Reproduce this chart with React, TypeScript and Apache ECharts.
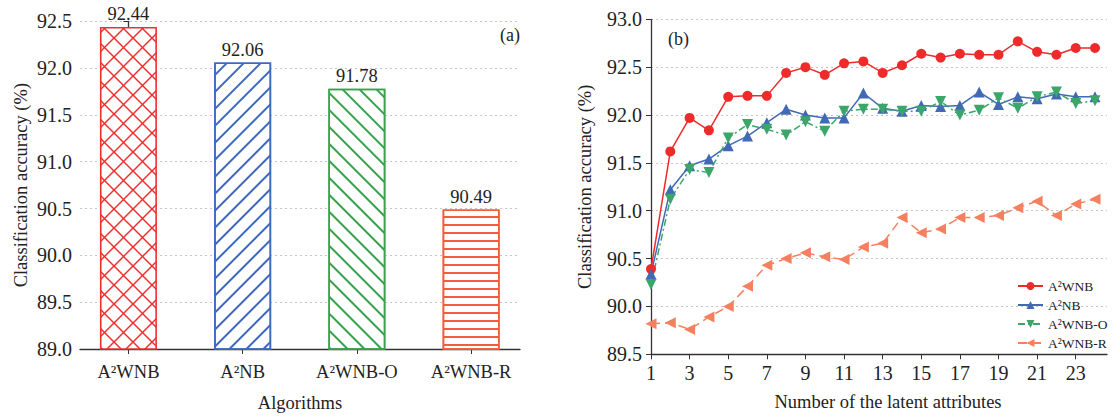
import React, { useEffect, useRef } from "react";
import * as echarts from "echarts";

const categories = ["A²WNB", "A²NB", "A²WNB-O", "A²WNB-R"];
const barValues = [92.44, 92.06, 91.78, 90.49];

const latentAttrs = [1, 2, 3, 4, 5, 6, 7, 8, 9, 10, 11, 12, 13, 14, 15, 16, 17, 18, 19, 20, 21, 22, 23, 24];
const xTickLabels = [1, 3, 5, 7, 9, 11, 13, 15, 17, 19, 21, 23];
const a2wnb = [90.39, 91.62, 91.97, 91.84, 92.19, 92.2, 92.2, 92.44, 92.5, 92.42, 92.54, 92.56, 92.44, 92.52, 92.64, 92.6, 92.64, 92.63, 92.63, 92.77, 92.66, 92.63, 92.7, 92.7];
const a2nb = [90.34, 91.22, 91.47, 91.54, 91.68, 91.78, 91.92, 92.06, 92.0, 91.97, 91.97, 92.23, 92.07, 92.04, 92.1, 92.09, 92.1, 92.24, 92.11, 92.19, 92.17, 92.22, 92.19, 92.19];
const a2wnbO = [90.23, 91.12, 91.43, 91.4, 91.76, 91.9, 91.85, 91.79, 91.93, 91.83, 92.04, 92.06, 92.06, 92.04, 92.04, 92.14, 92.0, 92.05, 92.18, 92.07, 92.19, 92.24, 92.12, 92.15];
const a2wnbR = [89.82, 89.83, 89.76, 89.89, 90.0, 90.21, 90.43, 90.5, 90.56, 90.52, 90.49, 90.62, 90.66, 90.93, 90.77, 90.81, 90.93, 90.93, 90.95, 91.03, 91.1, 90.95, 91.07, 91.12];

const FONT = "Liberation Serif";
const TXT = "#222";
const AXIS = "#333";

const barColors = ["#ee2f2f", "#3f69bd", "#36a24c", "#f25d3d"];
const lineColors = ["#ee2a2a", "#4169b5", "#3aa66a", "#f5805f"];

function hatch(color: string, rotation: number, gap: number, w = 1.4) {
  return {
    symbol: "rect",
    symbolSize: 1,
    dashArrayX: [1, 0],
    dashArrayY: [w, gap],
    rotation,
    color,
  };
}

function crossPattern(color: string, size: number) {
  const c = document.createElement("canvas");
  c.width = size;
  c.height = size;
  const ctx = c.getContext("2d")!;
  ctx.fillStyle = "#fff";
  ctx.fillRect(0, 0, size, size);
  ctx.strokeStyle = color;
  ctx.lineWidth = 1.5;
  for (const off of [-size, 0, size]) {
    ctx.beginPath();
    ctx.moveTo(off, 0);
    ctx.lineTo(off + size, size);
    ctx.stroke();
    ctx.beginPath();
    ctx.moveTo(off + size, 0);
    ctx.lineTo(off, size);
    ctx.stroke();
  }
  return { image: c, repeat: "repeat", imageWidth: size, imageHeight: size };
}

export default function App() {
  const ref = useRef<HTMLDivElement>(null);
  useEffect(() => {
    if (!ref.current) return;
    const chart = echarts.init(ref.current, null, { renderer: "svg" });
    const decals = [
      null,
      hatch(barColors[1], -Math.PI / 4, 9.2),
      hatch(barColors[2], Math.PI / 4, 9.2),
      hatch(barColors[3], 0, 5.6, 1.5),
    ];
    const mainBarData = barValues.map((v, i) => ({
      value: [i, v],
      itemStyle:
        i === 0
          ? { color: crossPattern(barColors[0], 19), borderColor: barColors[0], borderWidth: 1.6 }
          : { color: "#fff", borderColor: barColors[i], borderWidth: 1.6, decal: decals[i] },
    }));
    const lineSeries = [
      { name: "A²WNB", data: a2wnb, color: lineColors[0], symbol: "circle", size: 10, rot: 0, type: "solid" as any },
      { name: "A²NB", data: a2nb, color: lineColors[1], symbol: "triangle", size: 11, rot: 0, type: "solid" as any },
      { name: "A²WNB-O", data: a2wnbO, color: lineColors[2], symbol: "triangle", size: 11, rot: 180, type: [7, 3, 2, 3] as any },
      { name: "A²WNB-R", data: a2wnbR, color: lineColors[3], symbol: "triangle", size: 11, rot: 90, type: [9, 5] as any },
    ].map((s) => ({
      name: s.name,
      type: "line",
      xAxisIndex: 1,
      yAxisIndex: 1,
      data: s.data.map((v, i) => [latentAttrs[i], v]),
      symbol: s.symbol,
      symbolSize: s.size,
      symbolRotate: s.rot,
      showSymbol: true,
      color: s.color,
      itemStyle: { color: s.color, borderWidth: 0 },
      lineStyle: { color: s.color, width: 1.5, type: s.type },
      emphasis: { disabled: true },
    }));

    const axisLabelStyle = { color: TXT, fontFamily: FONT, fontSize: 20 };
    const nameStyle = { color: TXT, fontFamily: FONT, fontSize: 18.5 };
    const splitLine = { show: true, lineStyle: { color: "#c4c4c4", type: [2, 3] as any, width: 1 } };

    chart.setOption({
      animation: false,
      textStyle: { fontFamily: FONT },
      grid: [
        { left: 80, top: 21.3, width: 440, height: 327.7, outerBoundsMode: "none" },
        { left: 651, top: 19.3, width: 456, height: 335, outerBoundsMode: "none" },
      ],
      legend: {
        orient: "vertical",
        left: 1012,
        top: 274,
        itemWidth: 25,
        itemHeight: 10,
        itemGap: 5,
        selectedMode: false,
        textStyle: { color: TXT, fontFamily: FONT, fontSize: 13.5 },
        data: lineSeries.map((s) => s.name),
      },
      xAxis: [
        {
          type: "value",
          gridIndex: 0,
          min: -0.424,
          max: 3.428,
          splitLine: { show: false },
          axisLine: { show: true, lineStyle: { color: AXIS, width: 1.3 } },
          axisTick: { show: true, customValues: [0, 1, 2, 3], length: 5, lineStyle: { color: AXIS } },
          axisLabel: {
            ...axisLabelStyle,
            fontSize: 18.5,
            margin: 13,
            customValues: [0, 1, 2, 3],
            formatter: (v: number) => categories[Math.round(v)] ?? "",
          },
          name: "Algorithms",
          nameLocation: "middle",
          nameGap: 44,
          nameTextStyle: nameStyle,
        },
        {
          type: "value",
          gridIndex: 1,
          min: 1,
          max: 24.62,
          splitLine: { show: false },
          axisLine: { show: true, lineStyle: { color: AXIS, width: 1.3 } },
          axisTick: { show: true, customValues: xTickLabels, length: 5, lineStyle: { color: AXIS } },
          axisLabel: { ...axisLabelStyle, margin: 9, customValues: xTickLabels, formatter: (v: number) => String(v) },
          name: "Number of the latent attributes",
          nameLocation: "middle",
          nameGap: 38,
          nameTextStyle: { ...nameStyle, padding: [0, 0, 0, 18] },
        },
      ],
      yAxis: [
        {
          type: "value",
          gridIndex: 0,
          min: 89,
          max: 92.5,
          interval: 0.5,
          splitLine,
          axisLine: { show: true, lineStyle: { color: AXIS, width: 1.3 } },
          axisTick: { show: true, length: 5, lineStyle: { color: AXIS } },
          axisLabel: { ...axisLabelStyle, margin: 8, formatter: (v: number) => v.toFixed(1) },
          name: "Classification accuracy (%)",
          nameLocation: "middle",
          nameGap: 50,
          nameTextStyle: nameStyle,
        },
        {
          type: "value",
          gridIndex: 1,
          min: 89.5,
          max: 93,
          interval: 0.5,
          splitLine,
          axisLine: { show: true, lineStyle: { color: AXIS, width: 1.3 } },
          axisTick: { show: true, length: 5, lineStyle: { color: AXIS } },
          axisLabel: { ...axisLabelStyle, margin: 9, formatter: (v: number) => v.toFixed(1) },
          name: "Classification accuracy (%)",
          nameLocation: "middle",
          nameGap: 57,
          nameTextStyle: nameStyle,
        },
      ],
      series: [
        {
          type: "bar",
          xAxisIndex: 0,
          yAxisIndex: 0,
          barWidth: 57,
          data: mainBarData,
          label: {
            show: true,
            position: "top",
            distance: 3,
            color: TXT,
            fontFamily: FONT,
            fontSize: 18.5,
            formatter: (p: any) => p.value[1].toFixed(2),
          },
          emphasis: { disabled: true },
        },
        ...lineSeries,
      ],
      graphic: [
        { type: "text", left: 500, top: 26, style: { text: "(a)", fill: TXT, fontFamily: FONT, fontSize: 18 } },
        { type: "text", left: 668, top: 30, style: { text: "(b)", fill: TXT, fontFamily: FONT, fontSize: 18 } },
      ],
    });
    return () => chart.dispose();
  }, []);
  return <div ref={ref} style={{ position: "absolute", left: 0, top: 0, width: 1114, height: 419 }} />;
}
